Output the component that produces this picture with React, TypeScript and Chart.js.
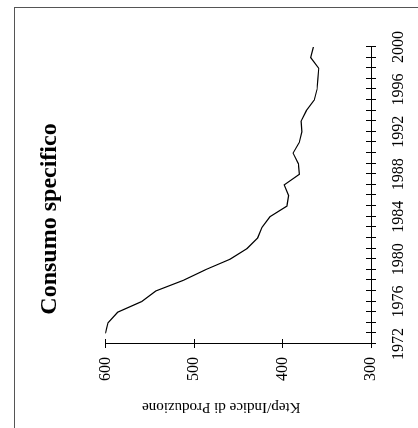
import React, { useEffect, useRef } from 'react';
import { Chart, registerables } from 'chart.js';

Chart.register(...registerables);

const years = [1973, 1974, 1975, 1976, 1977, 1978, 1979, 1980, 1981, 1982, 1983, 1984, 1985, 1986, 1987, 1988, 1989, 1990, 1991, 1992, 1993, 1994, 1995, 1996, 1997, 1998, 1999, 2000];
const consumo = [600, 597, 586, 559, 543, 512, 487, 459, 440, 428, 423, 414, 395, 393, 398, 381, 382, 388, 381, 378, 379, 373, 364, 361, 360, 359, 368, 365];
const valueTicks = [300, 400, 500, 600];
const yearTicks = [1972, 1973, 1974, 1975, 1976, 1977, 1978, 1979, 1980, 1981, 1982, 1983, 1984, 1985, 1986, 1987, 1988, 1989, 1990, 1991, 1992, 1993, 1994, 1995, 1996, 1997, 1998, 1999, 2000];
const titleText = 'Consumo specifico';
const axisTitle = 'Ktep/Indice di Produzione';

const FONT = "'Liberation Serif', 'Times New Roman', serif";

const crossTicks = {
  id: 'crossTicks',
  afterDraw(chart: any) {
    const { ctx, chartArea, scales } = chart;
    const xs = scales.x;
    const ys = scales.y;
    ctx.save();
    ctx.strokeStyle = '#000';
    ctx.lineWidth = 1;
    ctx.beginPath();
    for (const yr of yearTicks) {
      const px = Math.round(xs.getPixelForValue(yr)) + 0.5;
      ctx.moveTo(px, chartArea.bottom - 5);
      ctx.lineTo(px, chartArea.bottom + 5);
    }
    for (const v of valueTicks) {
      const py = Math.round(ys.getPixelForValue(v)) + 0.5;
      ctx.moveTo(chartArea.left - 4, py);
      ctx.lineTo(chartArea.left + 5, py);
    }
    ctx.stroke();
    ctx.restore();
  },
};

function ChartCanvas() {
  const ref = useRef<HTMLCanvasElement | null>(null);
  useEffect(() => {
    if (!ref.current) return;
    const chart = new Chart(ref.current, {
      type: 'line',
      data: {
        datasets: [
          {
            data: years.map((y, i) => ({ x: y, y: consumo[i] })),
            borderColor: '#000',
            borderWidth: 1.2,
            pointRadius: 0,
            tension: 0,
            fill: false,
          },
        ],
      },
      options: {
        animation: false,
        responsive: false,
        devicePixelRatio: 1,
        layout: { padding: { left: 0, top: 0, right: 10, bottom: 0 } },
        plugins: {
          legend: { display: false },
          tooltip: { enabled: false },
          title: {
            display: true,
            text: titleText,
            color: '#000',
            font: { family: FONT, size: 24, weight: 'bold' },
            padding: { top: 35.6, bottom: 40.9 },
          },
        },
        scales: {
          x: {
            type: 'linear',
            min: 1972,
            max: 2000,
            afterFit: (s: any) => { s.height = 47; },
            grid: { display: false, drawTicks: false },
            border: { display: true, color: '#000', width: 1 },
            ticks: {
              stepSize: 4,
              padding: 18,
              maxRotation: 0,
              minRotation: 0,
              color: '#000',
              font: { family: FONT, size: 16 },
              callback: (v: any) => String(v),
            },
          },
          y: {
            type: 'linear',
            min: 300,
            max: 600,
            afterFit: (s: any) => { s.width = 84; },
            grid: { display: false, drawTicks: false },
            border: { display: true, color: '#000', width: 1 },
            ticks: {
              stepSize: 100,
              padding: 13,
              color: '#000',
              font: { family: FONT, size: 16 },
            },
            title: {
              display: true,
              text: '         ' + axisTitle,
              color: '#000',
              font: { family: FONT, size: 15 },
              padding: { top: 12, bottom: 0 },
            },
          },
          yR: {
            type: 'linear',
            position: 'right',
            display: true,
            afterFit: (s: any) => { s.width = 37; },
            grid: { display: false, drawTicks: false },
            border: { display: false },
            ticks: { display: false },
          },
        },
      },
      plugins: [crossTicks],
    });
    return () => chart.destroy();
  }, []);
  return <canvas ref={ref} width={428} height={418} style={{ width: 428, height: 418, display: 'block' }} />;
}

export default function App() {
  return (
    <div style={{ position: 'fixed', left: 0, top: 0, width: 418, height: 428, overflow: 'hidden', background: '#fff' }}>
      <div
        style={{
          position: 'absolute',
          left: 14,
          top: 7,
          width: 600,
          height: 600,
          borderLeft: '1px solid #555',
          borderTop: '1px solid #555',
        }}
      />
      <div
        style={{
          position: 'absolute',
          left: 0,
          top: 0,
          width: 428,
          height: 418,
          transformOrigin: '0 0',
          transform: 'translate(0px, 428px) rotate(-90deg)',
        }}
      >
        <ChartCanvas />
      </div>
    </div>
  );
}
